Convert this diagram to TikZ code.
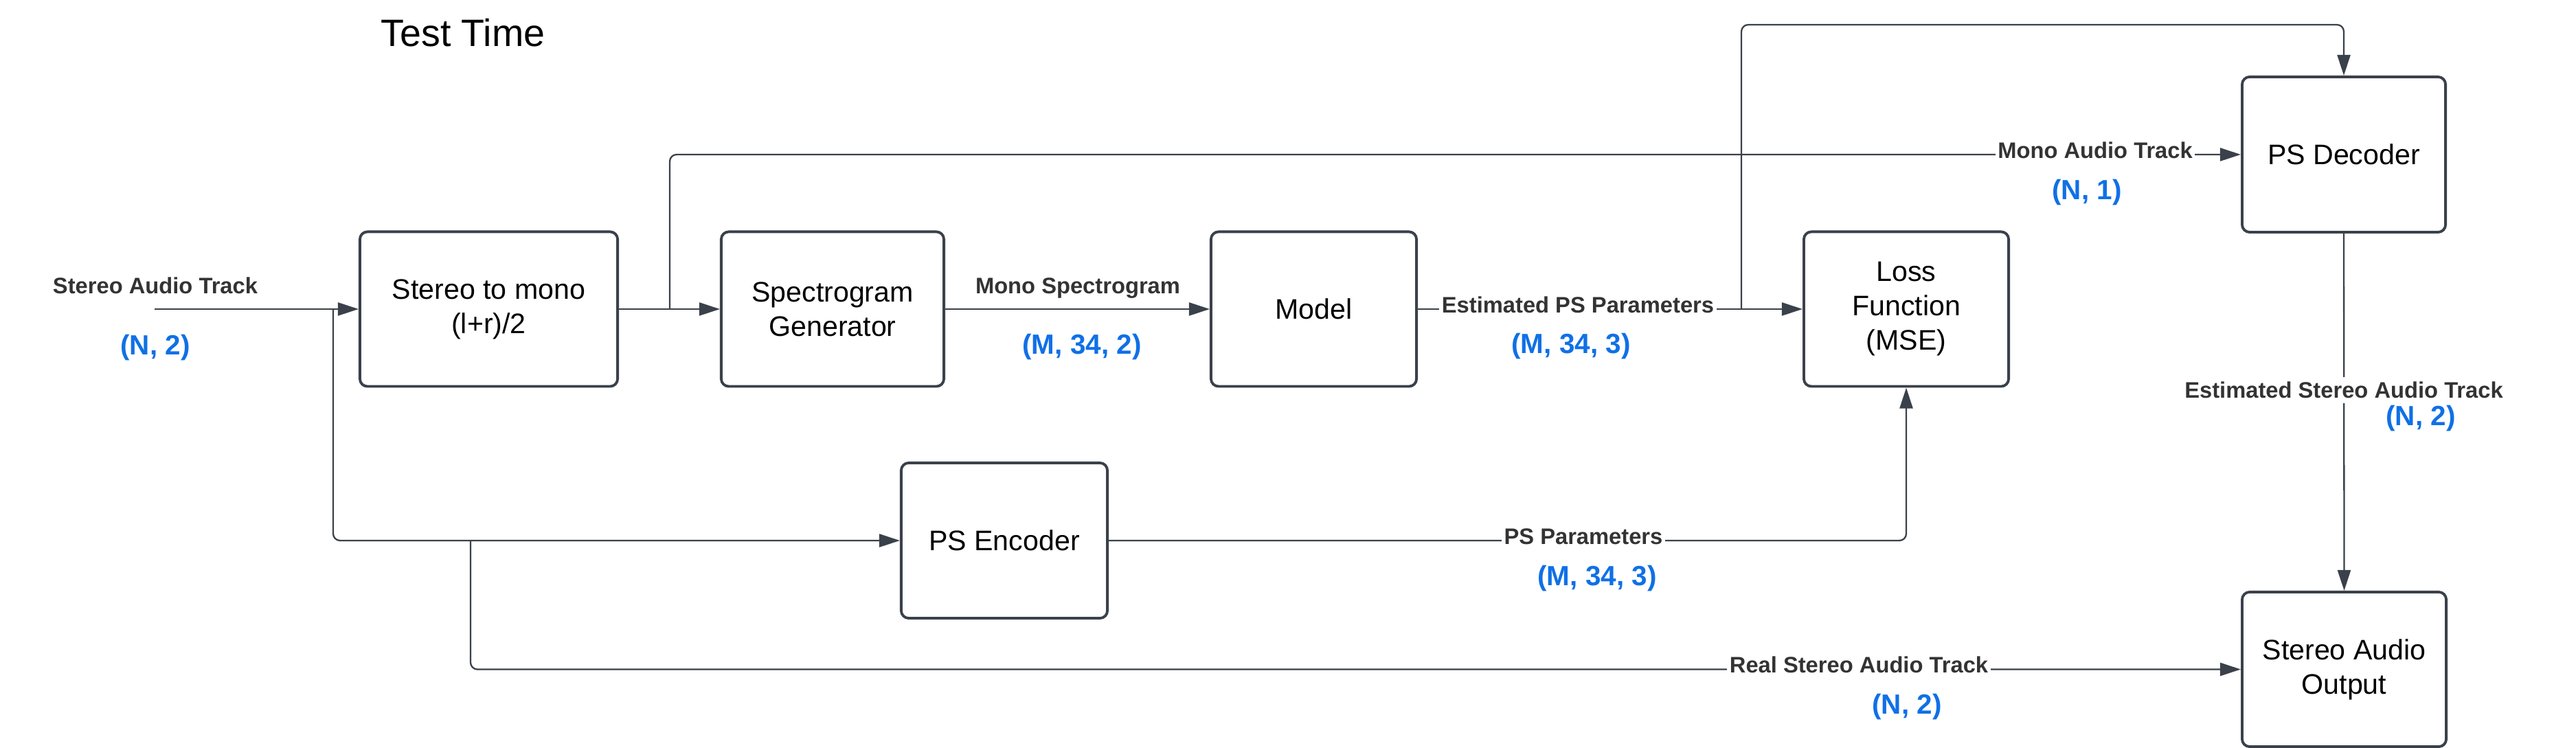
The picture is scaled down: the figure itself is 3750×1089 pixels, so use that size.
\documentclass[tikz,border=0pt]{standalone}
\usepackage{fontspec}
\setmainfont{Liberation Sans}
\usetikzlibrary{arrows.meta,calc}
\definecolor{lc}{RGB}{58,65,74}
\definecolor{bl}{RGB}{16,112,230}
\definecolor{lab}{RGB}{51,51,51}
\begin{document}
\begin{tikzpicture}[x=0.01cm,y=-0.01cm,
 box/.style={draw=lc,line width=1.1pt,rounded corners=0.11cm,align=center,font=\fontsize{11.7}{14.2}\selectfont,inner sep=0pt},
 conn/.style={draw=lc,line width=0.65pt,rounded corners=0.1cm},
 arr/.style={-{Triangle[length=0.3cm,width=0.19cm]}},
 lbl/.style={font=\fontsize{9.3}{11}\selectfont\bfseries,text=lab,anchor=base,inner sep=0pt},
 inl/.style={lbl,fill=white,inner xsep=1pt,inner ysep=2pt},
 dim/.style={font=\fontsize{11.5}{13}\selectfont\bfseries,text=bl,anchor=base,inner sep=0pt}]
\useasboundingbox (0,0) rectangle (3750,1089);

% boxes
\node[box,minimum width=3.75cm,minimum height=2.25cm] (s2m) at (711.5,450) {Stereo to mono\\(l+r)/2};
\node[box,minimum width=3.24cm,minimum height=2.25cm] (spec) at (1212,450) {Spectrogram\\Generator};
\node[box,minimum width=2.99cm,minimum height=2.25cm] (model) at (1912.5,450) {Model};
\node[box,minimum width=2.98cm,minimum height=2.25cm] (loss) at (2775,450) {Loss\\Function\\(MSE)};
\node[box,minimum width=2.96cm,minimum height=2.26cm] (dec) at (3412,225) {PS Decoder};
\node[box,minimum width=3.00cm,minimum height=2.26cm] (enc) at (1462,787) {PS Encoder};
\node[box,minimum width=2.97cm,minimum height=2.25cm] (out) at (3412.5,974.5) {Stereo Audio\\Output};

% connectors
\coordinate (inp) at (225,450);
\coordinate (b1) at (485,450);
\coordinate (b2) at (685,787);
\coordinate (b3) at (2535,450);
\coordinate (b4) at (975,450);
\coordinate (t) at (3412,36);
\draw[conn,arr] (inp) -- (s2m.west);
\draw[conn,arr] (b1) |- (enc.west);
\draw[conn,arr] (b2) |- (out.west);
\draw[conn,arr] (s2m.east) -- (spec.west);
\draw[conn,arr] (b4) |- (dec.west);
\draw[conn,arr] (spec.east) -- (model.west);
\draw[conn,arr] (model.east) -- (loss.west);
\draw[conn,arr] (b3) |- (t) -- (dec.north);
\draw[conn,arr] (enc.east) -| (loss.south);
\draw[conn,arr] (dec.south) -- (out.north);

% labels
\node[lbl] (l1) at (226,428) {Stereo Audio Track};
\node[dim] (d1) at (226,517) {(N, 2)};
\node[lbl] (l2) at (1569,428) {Mono Spectrogram};
\node[dim] (d2) at (1575,516) {(M, 34, 2)};
\node[inl] (l3) at (2297,456) {Estimated PS Parameters};
\node[dim] (d3) at (2287,515) {(M, 34, 3)};
\node[inl] (l4) at (3050,231) {Mono Audio Track};
\node[dim] (d4) at (3038,291) {(N, 1)};
\node[inl] (l5) at (3412,580) {Estimated Stereo Audio Track};
\node[dim] (d5) at (3524,620) {(N, 2)};
\node[inl] (l6) at (2305,793) {PS Parameters};
\node[dim] (d6) at (2325,853) {(M, 34, 3)};
\node[inl] (l7) at (2706,980) {Real Stereo Audio Track};
\node[dim] (d7) at (2776,1040) {(N, 2)};
\node[font=\fontsize{15.8}{18}\selectfont,anchor=base,inner sep=0pt] (title) at (674,68) {Test Time};
\end{tikzpicture}
\end{document}
